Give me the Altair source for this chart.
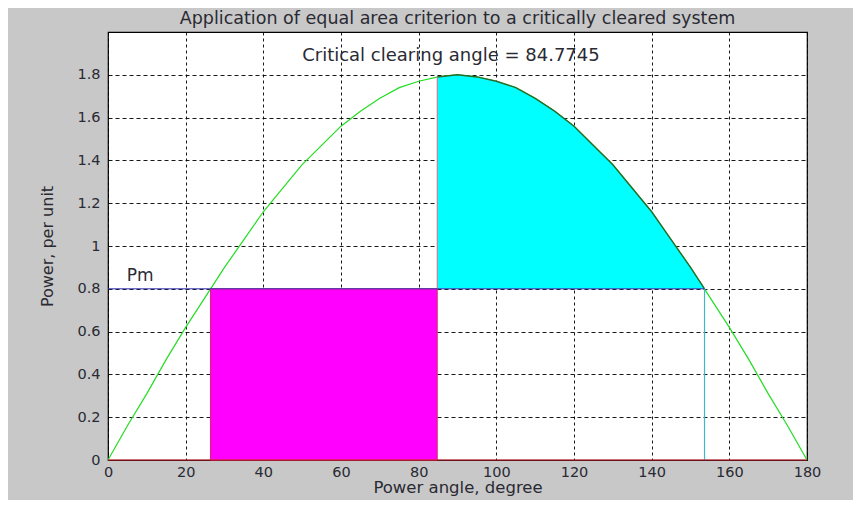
import altair as alt
import pandas as pd

# ---- data ----
angle = [0, 5, 10, 15, 20, 25, 30, 35, 40, 45, 50, 55, 60, 65, 70, 75, 80, 85, 90,
         95, 100, 105, 110, 115, 120, 125, 130, 135, 140, 145, 150, 155, 160, 165, 170, 175, 180]
power = [0.0, 0.16, 0.31, 0.47, 0.62, 0.76, 0.90, 1.03, 1.16, 1.27, 1.38, 1.47, 1.56, 1.63, 1.69, 1.74, 1.77, 1.79, 1.80,
         1.79, 1.77, 1.74, 1.69, 1.63, 1.56, 1.47, 1.38, 1.27, 1.16, 1.03, 0.90, 0.76, 0.62, 0.47, 0.31, 0.16, 0.0]

fill_angle = [84.77, 90, 95, 100, 105, 110, 115, 120, 125, 130, 135, 140, 145, 150, 153.61]
fill_power = [1.79, 1.80, 1.79, 1.77, 1.74, 1.69, 1.63, 1.56, 1.47, 1.38, 1.27, 1.16, 1.03, 0.90, 0.80]

pm = 0.8
delta0 = 26.39
delta_c = 84.7745
delta_max = 153.61

x_ticks = [0, 20, 40, 60, 80, 100, 120, 140, 160, 180]
y_ticks = [0, 0.2, 0.4, 0.6, 0.8, 1.0, 1.2, 1.4, 1.6, 1.8]

title_text = "Application of equal area criterion to a critically cleared system"
note_text = "Critical clearing angle = 84.7745"
pm_text = "Pm"

FONT = "DejaVu Sans"
TXT = "#2a2a33"

curve_df = pd.DataFrame({"angle": angle, "power": power})
fill_df = pd.DataFrame({"angle": fill_angle, "power": fill_power, "base": [pm] * len(fill_angle)})
rect_df = pd.DataFrame({"a0": [delta0], "a1": [delta_c], "p0": [0.0], "p1": [pm]})
pm_df = pd.DataFrame({"a0": [0.0], "a1": [delta_max], "p": [pm]})
vline_df = pd.DataFrame({"a": [delta_max], "p0": [0.0], "p1": [pm]})
cline_df = pd.DataFrame({"a": [delta_c], "p0": [pm], "p1": [1.79]})
zero_df = pd.DataFrame({"a0": [0.0], "a1": [180.0], "p": [0.0]})
note_df = pd.DataFrame({"a": [50.0], "p": [1.89], "t": [note_text]})
pmlab_df = pd.DataFrame({"a": [4.8], "p": [0.86], "t": [pm_text]})

xs = alt.Scale(domain=[0, 180], nice=False, zero=False)
ys = alt.Scale(domain=[0, 2.0], nice=False)

x_axis = alt.Axis(values=x_ticks, title="Power angle, degree", grid=True, gridDash=[3, 3],
                  gridColor="black", gridOpacity=0.9, domain=False, tickSize=0, labelPadding=5,
                  labelFlush=False, labelFontSize=14.5, labelFont=FONT, labelColor=TXT, titleFont=FONT,
                  titleFontSize=16.5, titleFontWeight="normal", titleColor=TXT, titlePadding=1)
y_axis = alt.Axis(values=y_ticks, title="Power, per unit", format=".1~f", grid=True, gridDash=[4, 3],
                  gridColor="black", gridOpacity=0.9, domain=False, tickSize=0, labelPadding=8,
                  labelFlush=False, labelFontSize=14.5, labelFont=FONT, labelColor=TXT, titleFont=FONT,
                  titleFontSize=16, titleFontWeight="normal", titleColor=TXT, titlePadding=21)

base_curve = alt.Chart(curve_df).mark_line(color="#22dd22", strokeWidth=1.2).encode(
    x=alt.X("angle:Q", scale=xs, axis=x_axis),
    y=alt.Y("power:Q", scale=ys, axis=y_axis),
)

fill = alt.Chart(fill_df).mark_area(color="#00ffff", opacity=1).encode(
    x=alt.X("angle:Q", scale=xs),
    y=alt.Y("power:Q", scale=ys),
    y2="base:Q",
)

fill_edge = alt.Chart(fill_df).mark_line(color="#2a6a2a", strokeWidth=1.4).encode(
    x=alt.X("angle:Q", scale=xs),
    y=alt.Y("power:Q", scale=ys),
)

rect = alt.Chart(rect_df).mark_rect(color="#ff00ff", stroke="#dd2266", strokeWidth=1).encode(
    x=alt.X("a0:Q", scale=xs), x2="a1:Q",
    y=alt.Y("p0:Q", scale=ys), y2="p1:Q",
)

pm_line = alt.Chart(pm_df).mark_rule(color="#3030b0", strokeWidth=1).encode(
    x=alt.X("a0:Q", scale=xs), x2="a1:Q",
    y=alt.Y("p:Q", scale=ys),
)

vline = alt.Chart(vline_df).mark_rule(color="#40b8c8", strokeWidth=1.2).encode(
    x=alt.X("a:Q", scale=xs),
    y=alt.Y("p0:Q", scale=ys), y2="p1:Q",
)

cline = alt.Chart(cline_df).mark_rule(color="#dd6688", strokeWidth=1).encode(
    x=alt.X("a:Q", scale=xs),
    y=alt.Y("p0:Q", scale=ys), y2="p1:Q",
)

zero_line = alt.Chart(zero_df).mark_rule(color="#dd2233", strokeWidth=1.2).encode(
    x=alt.X("a0:Q", scale=xs), x2="a1:Q",
    y=alt.Y("p:Q", scale=ys),
)

note = alt.Chart(note_df).mark_text(align="left", baseline="middle", font=FONT, fontSize=18,
                                    color=TXT).encode(
    x=alt.X("a:Q", scale=xs), y=alt.Y("p:Q", scale=ys), text="t:N")

pm_label = alt.Chart(pmlab_df).mark_text(align="left", baseline="middle", font=FONT, fontSize=17,
                                         color=TXT).encode(
    x=alt.X("a:Q", scale=xs), y=alt.Y("p:Q", scale=ys), text="t:N")

chart = alt.layer(
    base_curve, fill, fill_edge, rect, cline, pm_line, vline, zero_line, note, pm_label
).properties(
    width=699,
    height=428,
    padding={"left": 100, "top": 24, "right": 46, "bottom": 40},
    autosize=alt.AutoSizeParams(type="none"),
    title=alt.TitleParams(title_text, font=FONT, fontSize=17.5, fontWeight="normal",
                          color=TXT, anchor="middle", offset=5),
).configure(
    background="#c8c8c8",
).configure_view(
    fill="white", stroke="black", strokeWidth=1.2,
)

chart.save("out.html", embed_options={"renderer": "svg", "actions": False})
